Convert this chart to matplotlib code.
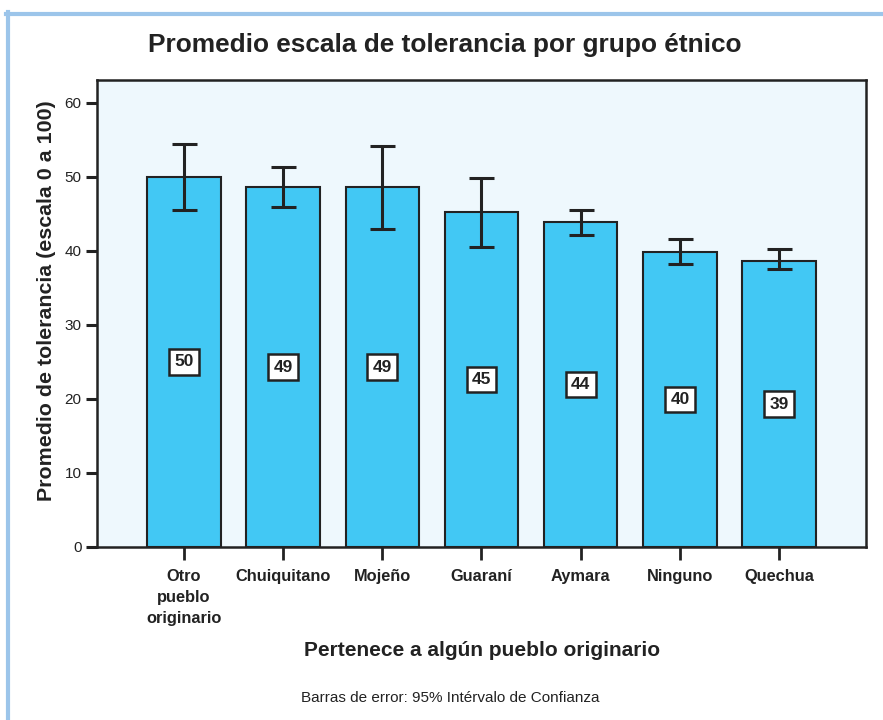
import matplotlib
matplotlib.use("Agg")
import matplotlib.pyplot as plt
from matplotlib.lines import Line2D
import numpy as np

plt.rcParams["font.family"] = ["Liberation Sans", "DejaVu Sans"]

# mean tolerance score per group, with 95% confidence limits
grupos = ["Otro\npueblo\noriginario", "Chuiquitano", "Mojeño", "Guaraní",
          "Aymara", "Ninguno", "Quechua"]
promedio = [50.0, 48.6, 48.6, 45.3, 43.9, 39.9, 38.6]
ic_inferior = [45.5, 45.9, 43.0, 40.5, 42.2, 38.2, 37.5]
ic_superior = [54.5, 51.4, 54.2, 49.9, 45.5, 41.6, 40.2]
y_ticks = [0, 10, 20, 30, 40, 50, 60]

ink = "#222222"

fig = plt.figure(figsize=(8.83, 7.2), dpi=100)
ax = fig.add_axes([97 / 883, 173 / 720, 769 / 883, 467 / 720])
ax.set_facecolor("#eef8fd")

x = np.arange(len(grupos))
prom = np.array(promedio)
err = [prom - np.array(ic_inferior), np.array(ic_superior) - prom]

ax.bar(x, prom, width=0.74, color="#42c8f4", edgecolor=ink, linewidth=1.5, zorder=2)
ax.errorbar(x, prom, yerr=err, fmt="none", ecolor=ink, elinewidth=2.2,
            capsize=9, capthick=2.2, zorder=3)

for xi, v in zip(x, prom):
    ax.text(xi, v / 2, f"{round(v)}", ha="center", va="center",
            fontsize=12.5, fontweight="bold", color=ink, zorder=4,
            bbox=dict(boxstyle="square,pad=0.3", facecolor="white",
                      edgecolor=ink, linewidth=1.8))

ax.set_xlim(-0.875, 6.875)
ax.set_ylim(0, 63.1)
ax.set_yticks(y_ticks)
ax.set_xticks(x)
ax.set_xticklabels(grupos, fontsize=11.8, fontweight="bold", color=ink,
                   linespacing=1.5, va="top")
ax.tick_params(axis="y", length=8, width=2.2, pad=3, labelsize=11,
               colors=ink)
ax.tick_params(axis="x", length=9.5, width=2, pad=6, colors=ink)
for sp in ax.spines.values():
    sp.set_linewidth(1.8)
    sp.set_color(ink)

ax.set_ylabel("Promedio de tolerancia (escala 0 a 100)", fontsize=15.4,
              fontweight="bold", color=ink)
ax.yaxis.set_label_coords(-0.053, 0.527)

fig.text(445 / 883, 1 - 45 / 720, "Promedio escala de tolerancia por grupo étnico",
         ha="center", va="center", fontsize=18.9, fontweight="bold", color=ink)
fig.text(482 / 883, 1 - 650 / 720, "Pertenece a algún pueblo originario",
         ha="center", va="center", fontsize=15, fontweight="bold", color=ink)
fig.text(450 / 883, 1 - 698 / 720, "Barras de error: 95% Intérvalo de Confianza",
         ha="center", va="center", fontsize=11, color=ink)

# page frame on top and left
frame = "#9cc5ea"
fig.add_artist(Line2D([6 / 883, 1], [1 - 13.5 / 720] * 2, color=frame,
                      linewidth=3, transform=fig.transFigure))
fig.add_artist(Line2D([8 / 883] * 2, [0, 1 - 12 / 720], color=frame,
                      linewidth=3, transform=fig.transFigure))

fig.savefig("out.png", dpi=100, facecolor="white")
